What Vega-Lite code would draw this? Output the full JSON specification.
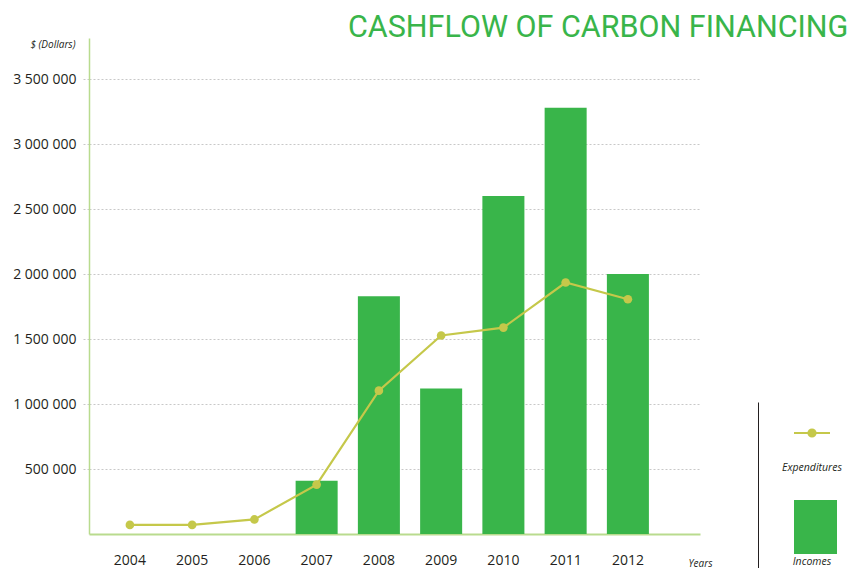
{
  "$schema": "https://vega.github.io/schema/vega-lite/v6.json",
  "padding": {"left": 12, "top": 12, "right": 0, "bottom": 0},
  "background": "white",
  "bounds": "flush",
  "spacing": 58,
  "title": {"text": "CASHFLOW OF CARBON FINANCING", "anchor": "start", "frame": "group", "font": "Roboto", "fontSize": 30.5, "fontWeight": "normal", "color": "#39b54a", "offset": 0, "baseline": "alphabetic", "dx": 259, "dy": 29},
  "config": {
    "view": {"stroke": null},
    "font": "Open Sans",
    "locale": {"number": {"decimal": ".", "thousands": " ", "grouping": [3], "currency": ["$", ""]}}
  },
  "hconcat": [
    {
      "width": 611,
      "height": 496,
      "data": {"values": [
        {"year": "2004", "incomes": 0, "expenditures": 70000},
        {"year": "2005", "incomes": 0, "expenditures": 70000},
        {"year": "2006", "incomes": 0, "expenditures": 112000},
        {"year": "2007", "incomes": 410000, "expenditures": 380000},
        {"year": "2008", "incomes": 1830000, "expenditures": 1103000},
        {"year": "2009", "incomes": 1120000, "expenditures": 1527000},
        {"year": "2010", "incomes": 2600000, "expenditures": 1588000},
        {"year": "2011", "incomes": 3280000, "expenditures": 1935000},
        {"year": "2012", "incomes": 2000000, "expenditures": 1806000}
      ]},
      "encoding": {
        "x": {
          "field": "year", "type": "ordinal",
          "scale": {"type": "band", "paddingInner": 0.325, "paddingOuter": 0.57, "align": 0.28},
          "axis": {
            "title": "Years", "labelAngle": 0, "domainColor": "#b9db8e", "domainWidth": 2,
            "ticks": false, "tickSize": 0, "labelPadding": 19, "labelFont": "Open Sans", "labelFontSize": 14,
            "labelColor": "#231f20", "grid": false,
            "titleX": 611, "titleY": 29, "titleAlign": "center", "titleBaseline": "middle",
            "titleFont": "Open Sans", "titleFontStyle": "italic", "titleFontWeight": "normal", "titleFontSize": 10, "titleColor": "#231f20"
          }
        }
      },
      "layer": [
        {
          "mark": {"type": "bar", "color": "#39b54a"},
          "encoding": {
            "y": {
              "field": "incomes", "type": "quantitative",
              "scale": {"domain": [0, 3816000], "nice": false, "zero": true},
              "axis": {
                "title": "$ (Dollars)", "values": [500000, 1000000, 1500000, 2000000, 2500000, 3000000, 3500000],
                "format": ",d", "grid": true, "gridColor": "#c8c8c8", "gridDash": [2, 2], "gridWidth": 1,
                "ticks": true, "tickColor": "#c8c8c8", "tickDash": [2, 2], "tickSize": 8, "tickWidth": 1,
                "domainColor": "#b9db8e", "domainWidth": 1.5,
                "labelFont": "Open Sans", "labelFontSize": 14, "labelColor": "#231f20", "labelPadding": 5,
                "titleAngle": 0, "titleAlign": "right", "titleBaseline": "middle", "titleX": -14, "titleY": 6,
                "titleFont": "Open Sans", "titleFontStyle": "italic", "titleFontWeight": "normal", "titleFontSize": 10, "titleColor": "#231f20"
              }
            }
          }
        },
        {
          "mark": {"type": "line", "color": "#c5c84a", "strokeWidth": 2.2},
          "encoding": {"y": {"field": "expenditures", "type": "quantitative", "title": "$ (Dollars)"}}
        },
        {
          "mark": {"type": "point", "filled": true, "opacity": 1, "color": "#c5c84a", "size": 75},
          "encoding": {"y": {"field": "expenditures", "type": "quantitative", "title": "$ (Dollars)"}}
        }
      ]
    },
    {
      "width": 100,
      "height": 496,
      "data": {"values": [
        {"item": "Expenditures", "kind": "line"},
        {"item": "Incomes", "kind": "bar"}
      ]},
      "encoding": {
        "y": {
          "field": "item", "type": "nominal",
          "scale": {"type": "band", "domain": ["Expenditures", "Incomes"], "range": [364, 560], "paddingInner": 0.5, "paddingOuter": 0.2926, "align": 0.136},
          "axis": {"title": null, "labels": false, "ticks": false, "grid": false, "domainColor": "#231f20", "domainWidth": 1}
        },
        "x": {"datum": "key", "type": "nominal", "scale": {"type": "band", "range": [8, 100]}, "axis": null}
      },
      "layer": [
        {
          "transform": [{"filter": "datum.kind === 'bar'"}],
          "mark": {"type": "bar", "color": "#39b54a", "width": 43, "height": 54, "xOffset": 3.5}
        },
        {
          "transform": [{"filter": "datum.kind === 'line'"}],
          "mark": {"type": "point", "shape": "M-1,0H1M0.2,0A0.2,0.2 0 1,1 -0.2,0A0.2,0.2 0 1,1 0.2,0", "size": 1296, "filled": true, "color": "#c5c84a", "stroke": "#c5c84a", "strokeWidth": 2, "opacity": 1}
        },
        {
          "mark": {"type": "text", "dy": 35, "font": "Open Sans", "fontStyle": "italic", "fontSize": 10.5, "color": "#231f20"},
          "encoding": {"text": {"field": "item"}}
        }
      ]
    }
  ]
}
